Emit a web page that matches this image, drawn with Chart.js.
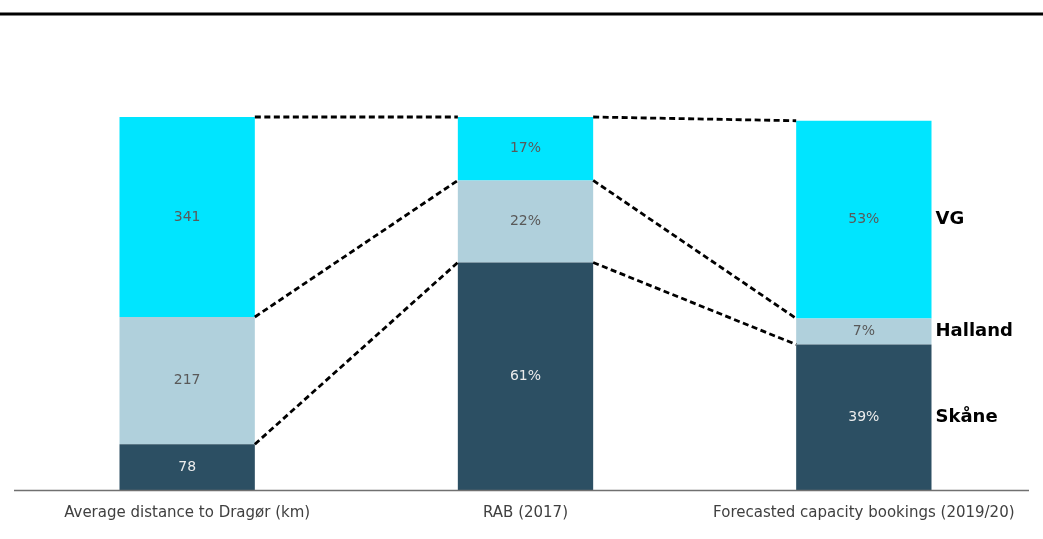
<!DOCTYPE html>
<html>
<head>
<meta charset="utf-8">
<script src="https://cdn.jsdelivr.net/npm/chart.js@4"></script>
<style>
  html, body { margin: 0; padding: 0; background: #fff; }
  #wrap { width: 1043px; height: 539px; position: relative; }
</style>
</head>
<body>
<div id="wrap"><canvas id="regionChart"></canvas></div>
<script>
const categories = ['Average distance to Dragør (km)', 'RAB (2017)', 'Forecasted capacity bookings (2019/20)'];
const units = ['', '%', '%'];
const regions = ['Skåne', 'Halland', 'VG'];
const skane = [78, 61, 39];
const halland = [217, 22, 7];
const vg = [341, 17, 53];

const rawSeries = [skane, halland, vg];
const colors = ['#2c4f63', '#b0d0dc', '#00e5ff'];
const textColors = ['#ececec', '#595959', '#595959'];

// first column is in km, so scale it to a share of 100 like the others
const scaleFor = categories.map((c, i) => {
    if (units[i] === '%') return 1;
    const total = rawSeries.reduce((s, arr) => s + arr[i], 0);
    return 100 / total;
});

const datasets = rawSeries.map((arr, k) => ({
    label: regions[k],
    data: arr.map((v, i) => v * scaleFor[i]),
    backgroundColor: colors[k],
    borderWidth: 0,
    barPercentage: 0.4,
    categoryPercentage: 1,
}));

const decorPlugin = {
    id: 'decor',
    afterDatasetsDraw(chart) {
        const ctx = chart.ctx;
        const area = chart.chartArea;
        ctx.save();

        // connector lines between segment tops
        ctx.strokeStyle = '#000';
        ctx.lineWidth = 2.8;
        ctx.setLineDash([6, 3.5]);
        chart.data.datasets.forEach((ds, k) => {
            const els = chart.getDatasetMeta(k).data;
            for (let i = 0; i < els.length - 1; i++) {
                const a = els[i], b = els[i + 1];
                ctx.beginPath();
                ctx.moveTo(a.x + a.width / 2, a.y);
                ctx.lineTo(b.x - b.width / 2, b.y);
                ctx.stroke();
            }
        });
        ctx.setLineDash([]);

        // value labels inside the bars
        ctx.font = '14px "DejaVu Sans"';
        ctx.textAlign = 'center';
        ctx.textBaseline = 'middle';
        rawSeries.forEach((arr, k) => {
            const els = chart.getDatasetMeta(k).data;
            ctx.fillStyle = textColors[k];
            els.forEach((el, i) => {
                ctx.fillText(arr[i] + units[i], el.x, (el.y + el.base) / 2);
            });
        });

        // region names next to the last bar
        ctx.font = 'bold 18px "DejaVu Sans"';
        ctx.textAlign = 'left';
        ctx.fillStyle = '#000';
        regions.forEach((name, k) => {
            const els = chart.getDatasetMeta(k).data;
            const el = els[els.length - 1];
            ctx.fillText(name, el.x + el.width / 2 + 4, (el.y + el.base) / 2);
        });

        // baseline
        ctx.strokeStyle = '#707070';
        ctx.lineWidth = 1.5;
        ctx.beginPath();
        ctx.moveTo(14, area.bottom + 0.5);
        ctx.lineTo(1029, area.bottom + 0.5);
        ctx.stroke();

        // rule across the top
        ctx.strokeStyle = '#000';
        ctx.lineWidth = 3;
        ctx.beginPath();
        ctx.moveTo(0, 14);
        ctx.lineTo(chart.width, 14);
        ctx.stroke();

        ctx.restore();
    }
};

new Chart(document.getElementById('regionChart'), {
    type: 'bar',
    data: { labels: categories, datasets: datasets },
    options: {
        responsive: true,
        maintainAspectRatio: false,
        animation: false,
        layout: { padding: { top: 117, left: 18, right: 10, bottom: 3 } },
        plugins: {
            legend: { display: false },
            tooltip: { enabled: false },
        },
        scales: {
            x: {
                stacked: true,
                grid: { display: false, drawTicks: false },
                border: { display: false },
                ticks: {
                    color: '#404040',
                    font: { family: 'DejaVu Sans', size: 15 },
                    padding: 14,
                    maxRotation: 0,
                    autoSkip: false,
                },
            },
            y: {
                stacked: true,
                display: false,
                min: 0,
                max: 100,
            },
        },
    },
    plugins: [decorPlugin],
});
</script>
</body>
</html>
